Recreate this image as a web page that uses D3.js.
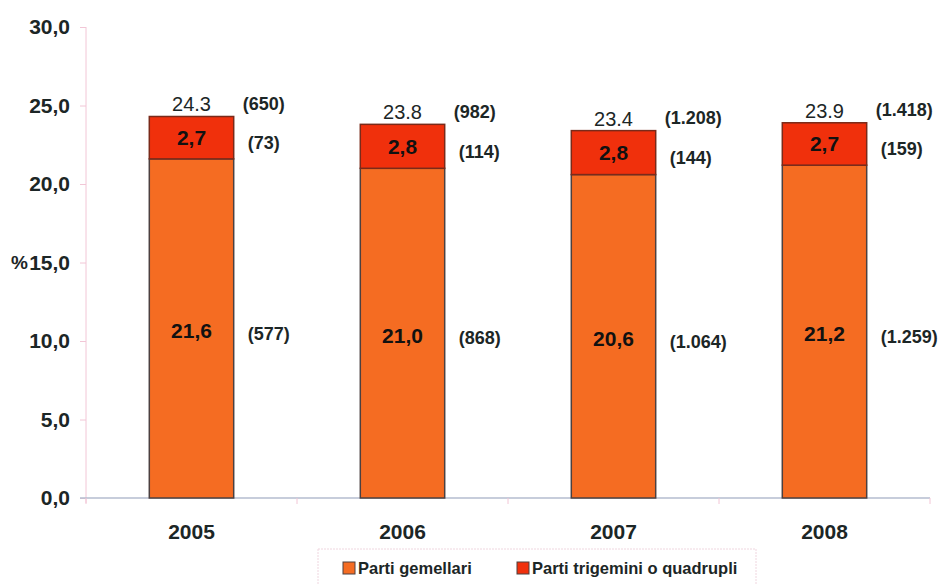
<!DOCTYPE html>
<html>
<head>
<meta charset="utf-8">
<script src="https://cdn.jsdelivr.net/npm/d3@7"></script>
<style>
  body { margin: 0; background: #fff; }
  svg { font-family: "Liberation Sans", Arial, sans-serif; }
</style>
</head>
<body>
<div id="chart"></div>
<script>
// data
var years = ["2005", "2006", "2007", "2008"];
var gemellari = [21.6, 21.0, 20.6, 21.2];
var trigemini = [2.7, 2.8, 2.8, 2.7];
var totali = [24.3, 23.8, 23.4, 23.9];
var nGemellari = ["(577)", "(868)", "(1.064)", "(1.259)"];
var nTrigemini = ["(73)", "(114)", "(144)", "(159)"];
var nTotali = ["(650)", "(982)", "(1.208)", "(1.418)"];
var yTicks = [0, 5, 10, 15, 20, 25, 30];
var seriesNames = ["Parti gemellari", "Parti trigemini o quadrupli"];

var svgWidth = 940, svgHeight = 584;
var colOrange = "#f56c22", colRed = "#f0300c", txt = "#1c2626";

var svg = d3.select("#chart").append("svg")
    .attr("width", svgWidth).attr("height", svgHeight);

// scales
var x = d3.scaleBand().domain(years).range([86, 930]);
var y = d3.scaleLinear().domain([0, 30]).range([498, 27]);
var barW = x.bandwidth() * 0.4;
var fmt = function(v) { return d3.format(".1f")(v).replace(".", ","); };

// y axis
var yAxis = d3.axisLeft(y).tickValues(yTicks).tickSize(6).tickPadding(10).tickFormat(fmt);
var gy = svg.append("g").attr("transform", "translate(86,0)").call(yAxis);
gy.select(".domain").attr("stroke", "#f2c6d6").attr("d", "M0," + y(30) + "V" + (y(0) + 5));
gy.selectAll(".tick line").attr("stroke", "#f2c6d6");
gy.selectAll(".tick text").attr("fill", txt).attr("font-size", 21).attr("font-weight", "bold")
    .attr("font-family", "Liberation Sans, Arial, sans-serif");

svg.append("text").attr("x", 11).attr("y", y(15)).attr("dy", "0.35em")
    .attr("font-size", 19).attr("font-weight", "bold").attr("fill", txt).text("%");

// x axis baseline
svg.append("line").attr("x1", 80).attr("x2", 930).attr("y1", y(0)).attr("y2", y(0))
    .attr("stroke", "#b4bccf").attr("stroke-width", 1.5);
svg.selectAll(".xtick").data(years.concat(["end"])).enter().append("line")
    .attr("x1", function(d, i) { return 86 + i * x.step(); })
    .attr("x2", function(d, i) { return 86 + i * x.step(); })
    .attr("y1", y(0)).attr("y2", y(0) + 6).attr("stroke", "#f2c6d6");
svg.selectAll(".year").data(years).enter().append("text")
    .attr("x", function(d) { return x(d) + x.bandwidth() / 2; })
    .attr("y", 532).attr("dy", "0.35em").attr("text-anchor", "middle")
    .attr("font-size", 21).attr("font-weight", "bold").attr("fill", txt)
    .text(function(d) { return d; });

// bars
var bx = function(d) { return x(d) + (x.bandwidth() - barW) / 2; };
svg.selectAll(".gem").data(years).enter().append("rect")
    .attr("x", bx).attr("width", barW)
    .attr("y", function(d, i) { return y(gemellari[i]); })
    .attr("height", function(d, i) { return y(0) - y(gemellari[i]); })
    .attr("fill", colOrange).attr("stroke", "#4c4040").attr("stroke-width", 1.5);
svg.selectAll(".tri").data(years).enter().append("rect")
    .attr("x", bx).attr("width", barW)
    .attr("y", function(d, i) { return y(gemellari[i] + trigemini[i]); })
    .attr("height", function(d, i) { return y(gemellari[i]) - y(gemellari[i] + trigemini[i]); })
    .attr("fill", colRed).attr("stroke", "#7a2a1a").attr("stroke-width", 1.5);

// labels inside bars
svg.selectAll(".lgem").data(years).enter().append("text")
    .attr("x", function(d) { return x(d) + x.bandwidth() / 2; })
    .attr("y", function(d, i) { return y(gemellari[i] / 2) + 2; })
    .attr("dy", "0.35em").attr("text-anchor", "middle")
    .attr("font-size", 21).attr("font-weight", "bold").attr("fill", "#111")
    .text(function(d, i) { return fmt(gemellari[i]); });
svg.selectAll(".ltri").data(years).enter().append("text")
    .attr("x", function(d) { return x(d) + x.bandwidth() / 2; })
    .attr("y", function(d, i) { return y(gemellari[i] + trigemini[i] / 2); })
    .attr("dy", "0.35em").attr("text-anchor", "middle")
    .attr("font-size", 21).attr("font-weight", "bold").attr("fill", "#111")
    .text(function(d, i) { return fmt(trigemini[i]); });
svg.selectAll(".ltot").data(years).enter().append("text")
    .attr("x", function(d) { return x(d) + x.bandwidth() / 2; })
    .attr("y", function(d, i) { return y(totali[i]) - 12; })
    .attr("dy", "0.35em").attr("text-anchor", "middle")
    .attr("font-size", 20).attr("fill", txt)
    .text(function(d, i) { return String(totali[i]); });

// counts to the right
var rx = function(d) { return bx(d) + barW; };
svg.selectAll(".ngem").data(years).enter().append("text")
    .attr("x", function(d) { return rx(d) + 14; })
    .attr("y", function(d, i) { return y(gemellari[i] / 2) + 5; })
    .attr("dy", "0.35em").attr("font-size", 18).attr("font-weight", "bold").attr("fill", txt)
    .text(function(d, i) { return nGemellari[i]; });
svg.selectAll(".ntri").data(years).enter().append("text")
    .attr("x", function(d) { return rx(d) + 14; })
    .attr("y", function(d, i) { return y(gemellari[i] + trigemini[i] / 2) + 5; })
    .attr("dy", "0.35em").attr("font-size", 18).attr("font-weight", "bold").attr("fill", txt)
    .text(function(d, i) { return nTrigemini[i]; });
svg.selectAll(".ntot").data(years).enter().append("text")
    .attr("x", function(d) { return rx(d) + 9; })
    .attr("y", function(d, i) { return y(totali[i]) - 13; })
    .attr("dy", "0.35em").attr("font-size", 18).attr("font-weight", "bold").attr("fill", txt)
    .text(function(d, i) { return nTotali[i]; });

// legend
svg.append("rect").attr("x", 318).attr("y", 549).attr("width", 438).attr("height", 40)
    .attr("fill", "none").attr("stroke", "#efd6df").attr("stroke-dasharray", "2,1");
var legX = [343, 517];
var leg = svg.selectAll(".leg").data(seriesNames).enter().append("g")
    .attr("transform", function(d, i) { return "translate(" + legX[i] + ",568)"; });
leg.append("rect").attr("x", 0).attr("y", -6).attr("width", 12).attr("height", 12)
    .attr("fill", function(d, i) { return i === 0 ? colOrange : colRed; })
    .attr("stroke", "#4c4040");
leg.append("text").attr("x", 15).attr("dy", "0.35em").attr("font-size", 16.5)
    .attr("font-weight", "bold").attr("fill", txt).text(function(d) { return d; });
</script>
</body>
</html>
